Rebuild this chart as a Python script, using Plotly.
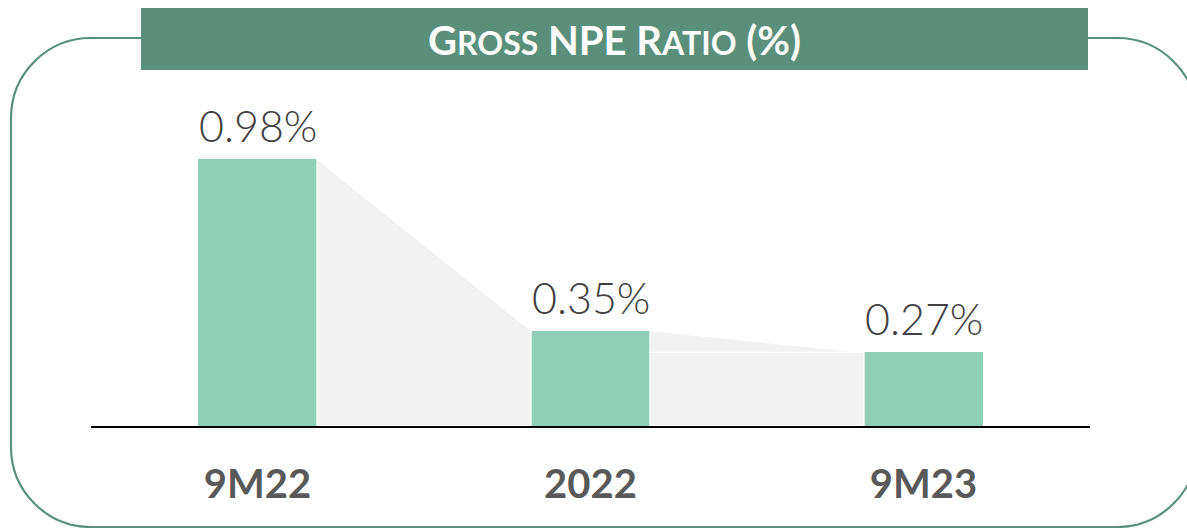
import plotly.graph_objects as go

# Gross NPE ratio by period (%)
categories = ["9M22", "2022", "9M23"]
npe_ratio = [0.98, 0.35, 0.27]
value_labels = ["0.98%", "0.35%", "0.27%"]
title_text = "Gross NPE Ratio (%)"

W, H = 1187, 528
L, R, T, B = 91, 1090, 100, 426          # plot area in pixels
BAR_W = 0.357
BAR_COLOR = "#8fcfb7"
STEP_COLOR = "#f2f2f2"
FRAME_COLOR = "#5a8f7b"
FONT = "Lato"


def px(x):
    return (x - L) / (R - L)


def py(y):
    return (B - y) / (B - T)


def rounded_rect(x0, y0, x1, y1, r):
    k = 0.5523 * r
    pts = [
        f"M {px(x0 + r)},{py(y0)}",
        f"L {px(x1 - r)},{py(y0)}",
        f"C {px(x1 - r + k)},{py(y0)} {px(x1)},{py(y0 + r - k)} {px(x1)},{py(y0 + r)}",
        f"L {px(x1)},{py(y1 - r)}",
        f"C {px(x1)},{py(y1 - r + k)} {px(x1 - r + k)},{py(y1)} {px(x1 - r)},{py(y1)}",
        f"L {px(x0 + r)},{py(y1)}",
        f"C {px(x0 + r - k)},{py(y1)} {px(x0)},{py(y1 - r + k)} {px(x0)},{py(y1 - r)}",
        f"L {px(x0)},{py(y0 + r)}",
        f"C {px(x0)},{py(y0 + r - k)} {px(x0 + r - k)},{py(y0)} {px(x0 + r)},{py(y0)}",
        "Z",
    ]
    return " ".join(pts)


fig = go.Figure()

# grey step connectors between consecutive bars
xs = list(range(len(categories)))
n = len(categories)
for i in range(n - 1):
    a = xs[i] + BAR_W / 2
    b = xs[i + 1] - BAR_W / 2
    v0, v1 = npe_ratio[i], npe_ratio[i + 1]
    if i == n - 2:
        # final step: base block plus sloped cap
        low = min(v0, v1)
        pieces = [
            ([a, b, b, a, a], [low, low, 0, 0, low]),
            ([a, b, a, a], [v0, v1, low, v0]),
        ]
    else:
        pieces = [([a, b, b, a, a], [v0, v1, 0, 0, v0])]
    for px_, py_ in pieces:
        fig.add_trace(go.Scatter(
            x=px_, y=py_, mode="lines", fill="toself",
            fillcolor=STEP_COLOR, line=dict(color="white", width=1.2),
            hoverinfo="skip", showlegend=False,
        ))

fig.add_trace(go.Bar(
    x=xs, y=npe_ratio, width=BAR_W,
    marker=dict(color=BAR_COLOR, line=dict(width=0)),
    showlegend=False, hoverinfo="skip",
))

for x, v, lab in zip(xs, npe_ratio, value_labels):
    fig.add_annotation(
        x=x, y=v, text=lab, showarrow=False, yanchor="bottom", yshift=6,
        font=dict(family=FONT, size=43, color="#404040", weight=300),
    )

# rounded frame and title banner
fig.add_shape(type="path", xref="paper", yref="paper",
              path=rounded_rect(11, 38, 1197, 527, 80),
              line=dict(color=FRAME_COLOR, width=2.2), fillcolor="rgba(0,0,0,0)")
fig.add_shape(type="rect", xref="paper", yref="paper",
              x0=px(141), x1=px(1088), y0=py(70), y1=py(8),
              line=dict(width=0), fillcolor=FRAME_COLOR)


def small_caps(text, small):
    out = []
    for word in text.split(" "):
        if word.isupper() or not word[0].isalpha():
            out.append(word.upper())
        else:
            out.append(word[0].upper() +
                       f"<span style='font-size:{small}px'>{word[1:].upper()}</span>")
    return " ".join(out)


fig.add_annotation(
    xref="paper", yref="paper", x=px(614.5), y=py(40),
    text="<b>" + small_caps(title_text, 32) + "</b>",
    showarrow=False, xanchor="center", yanchor="middle",
    font=dict(family=FONT, size=40, color="white"),
)

fig.update_layout(
    width=W, height=H,
    margin=dict(l=L, r=W - R, t=T, b=H - B),
    paper_bgcolor="white", plot_bgcolor="white",
    bargap=0,
)
fig.update_xaxes(
    range=[-0.5, 2.5], tickvals=xs, ticktext=[f"<b>{c}</b>" for c in categories],
    tickfont=dict(family=FONT, size=40, color="#595959"),
    showgrid=False, zeroline=False, showline=True, linecolor="black", linewidth=2,
    ticks="", ticklabelstandoff=22, fixedrange=True,
)
fig.update_yaxes(
    range=[0, (B - T) / 272.4], visible=False, showgrid=False, zeroline=False,
    fixedrange=True,
)

fig.write_html("out.html")
